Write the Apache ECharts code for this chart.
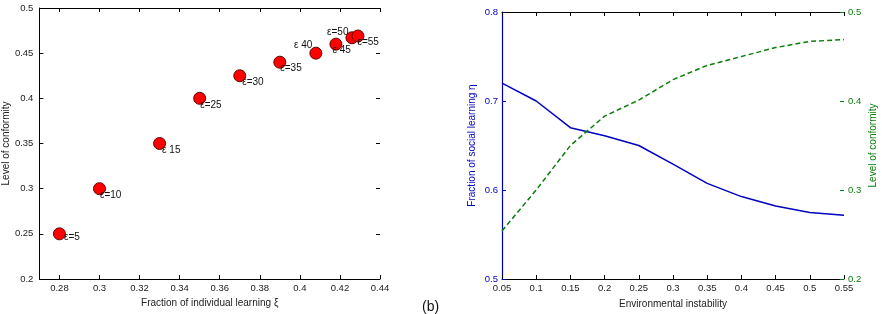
<!DOCTYPE html>
<html>
<head>
<meta charset="utf-8">
<script src="https://cdn.jsdelivr.net/npm/echarts@6/dist/echarts.min.js"></script>
<style>html,body{margin:0;padding:0;background:#fff}#c{width:882px;height:314px}</style>
</head>
<body>
<div id="c"></div>
<script>
// Left panel: conformity vs fraction of individual learning
const scatterX = [0.28, 0.30, 0.33, 0.35, 0.37, 0.39, 0.408, 0.418, 0.426, 0.429];
const scatterY = [0.25, 0.30, 0.35, 0.40, 0.425, 0.44, 0.45, 0.46, 0.467, 0.469];
const scatterLabels = ['ε=5', 'ε=10', 'ε 15', 'ε=25', 'ε=30', 'ε=35', 'ε 40', 'ε 45', 'ε=50', 'ε=55'];
const leftXTicks = [0.28, 0.30, 0.32, 0.34, 0.36, 0.38, 0.40, 0.42, 0.44];
const leftYTicks = [0.2, 0.25, 0.3, 0.35, 0.4, 0.45, 0.5];

// Right panel: vs environmental instability
const envX = [0.05, 0.10, 0.15, 0.20, 0.25, 0.30, 0.35, 0.40, 0.45, 0.50, 0.55];
const socialLearning = [0.72, 0.70, 0.67, 0.661, 0.65, 0.629, 0.6075, 0.5926, 0.582, 0.5747, 0.5716];
const conformity = [0.254, 0.30, 0.35, 0.383, 0.401, 0.424, 0.44, 0.45, 0.46, 0.467, 0.469];

// label placement styling (relative to marker box)
const labelPlace = [
  [11,10,'left'],[7,13,'left'],[9,13,'left'],[7,13,'left'],[9,13,'left'],
  [7,13,'left'],[3,-1,'right'],[3,13,'left'],[3,1,'right'],[6,13,'left']
];

const FONT = 'Liberation Sans, Arial, sans-serif';
const txt = '#222';
const blue = '#0000c0';
const green = '#0b7d0b';

const fmt = v => (+v.toFixed(2)).toString();

const chart = echarts.init(document.getElementById('c'), null, {renderer: 'canvas'});

const scatterData = scatterX.map((x, i) => ({
  value: [x, scatterY[i]],
  label: {
    show: true,
    formatter: scatterLabels[i],
    position: [labelPlace[i][0], labelPlace[i][1]],
    align: labelPlace[i][2],
    verticalAlign: 'middle',
    fontSize: 10,
    fontFamily: FONT,
    color: '#111'
  }
}));

const option = {
  animation: false,
  backgroundColor: '#fff',
  textStyle: {fontFamily: FONT},
  grid: [
    {left: 38, right: 502, top: 8, bottom: 35},
    {left: 502, right: 38, top: 12, bottom: 34}
  ],
  xAxis: [
    {
      type: 'value', gridIndex: 0, min: 0.27, max: 0.44,
      name: 'Fraction of individual learning ξ', nameLocation: 'middle', nameGap: 19,
      nameTextStyle: {fontSize: 10, color: txt, fontFamily: FONT},
      axisLine: {show: true, lineStyle: {color: '#000', width: 1}},
      axisTick: {show: true, inside: true, length: 4, customValues: leftXTicks, lineStyle: {color: '#000'}},
      axisLabel: {show: true, customValues: leftXTicks, formatter: fmt, fontSize: 9.5, color: txt, margin: 4},
      splitLine: {show: false}
    },
    {
      type: 'value', gridIndex: 0, min: 0.27, max: 0.44, position: 'top',
      axisLine: {show: true, lineStyle: {color: '#000', width: 1}},
      axisTick: {show: true, inside: true, length: 4, customValues: leftXTicks, lineStyle: {color: '#000'}},
      axisLabel: {show: false},
      splitLine: {show: false}
    },
    {
      type: 'value', gridIndex: 1, min: 0.05, max: 0.55, interval: 0.05,
      name: 'Environmental instability', nameLocation: 'middle', nameGap: 20,
      nameTextStyle: {fontSize: 10, color: txt, fontFamily: FONT},
      axisLine: {show: true, lineStyle: {color: '#000', width: 1}},
      axisTick: {show: true, inside: true, length: 4, lineStyle: {color: '#000'}},
      axisLabel: {show: true, formatter: fmt, fontSize: 9.5, color: txt, margin: 4, showMinLabel: true, showMaxLabel: true},
      splitLine: {show: false}
    },
    {
      type: 'value', gridIndex: 1, min: 0.05, max: 0.55, interval: 0.05, position: 'top',
      axisLine: {show: true, lineStyle: {color: '#000', width: 1}},
      axisTick: {show: true, inside: true, length: 4, lineStyle: {color: '#000'}},
      axisLabel: {show: false},
      splitLine: {show: false}
    }
  ],
  yAxis: [
    {
      type: 'value', gridIndex: 0, min: 0.2, max: 0.5, interval: 0.05,
      name: 'Level of conformity', nameLocation: 'middle', nameGap: 28,
      nameTextStyle: {fontSize: 10, color: txt, fontFamily: FONT},
      axisLine: {show: true, lineStyle: {color: '#000', width: 1}},
      axisTick: {show: true, inside: true, length: 4, lineStyle: {color: '#000'}},
      axisLabel: {show: true, formatter: fmt, fontSize: 9.5, color: txt, margin: 6},
      splitLine: {show: false}
    },
    {
      type: 'value', gridIndex: 0, min: 0.2, max: 0.5, interval: 0.05, position: 'right',
      axisLine: {show: false},
      axisTick: {show: true, inside: true, length: 4, lineStyle: {color: '#000'}},
      axisLabel: {show: false},
      splitLine: {show: false}
    },
    {
      type: 'value', gridIndex: 1, min: 0.5, max: 0.8, interval: 0.1,
      name: 'Fraction of social learning η', nameLocation: 'middle', nameGap: 25,
      nameTextStyle: {fontSize: 10, color: blue, fontFamily: FONT},
      axisLine: {show: true, lineStyle: {color: blue, width: 1.2}},
      axisTick: {show: true, inside: true, length: 4, lineStyle: {color: blue}},
      axisLabel: {show: true, formatter: fmt, fontSize: 9.5, color: blue, margin: 4},
      splitLine: {show: false}
    },
    {
      type: 'value', gridIndex: 1, min: 0.2, max: 0.5, interval: 0.1, position: 'right',
      name: 'Level of conformity', nameLocation: 'middle', nameGap: 24, nameRotate: 90,
      nameTextStyle: {fontSize: 10, color: green, fontFamily: FONT},
      axisLine: {show: false},
      axisTick: {show: true, inside: true, length: 4, lineStyle: {color: green}},
      axisLabel: {show: true, formatter: fmt, fontSize: 9.5, color: green, margin: 4},
      splitLine: {show: false}
    }
  ],
  series: [
    {
      type: 'scatter', xAxisIndex: 0, yAxisIndex: 0,
      symbol: 'circle', symbolSize: 12,
      itemStyle: {color: '#ff0000', opacity: 1, borderColor: '#6a0000', borderWidth: 1},
      data: scatterData,
      z: 3
    },
    {
      type: 'line', xAxisIndex: 2, yAxisIndex: 2,
      data: envX.map((x, i) => [x, socialLearning[i]]),
      showSymbol: false, symbol: 'none',
      lineStyle: {color: blue, width: 1.5, type: 'solid'}
    },
    {
      type: 'line', xAxisIndex: 2, yAxisIndex: 3,
      data: envX.map((x, i) => [x, conformity[i]]),
      showSymbol: false, symbol: 'none',
      lineStyle: {color: green, width: 1.5, type: [5, 3]}
    }
  ],
  graphic: [
    {type: 'text', left: 422, top: 300, style: {text: '(b)', fontSize: 14, fontFamily: FONT, fill: '#111'}}
  ]
};
chart.setOption(option);
</script>
</body>
</html>
